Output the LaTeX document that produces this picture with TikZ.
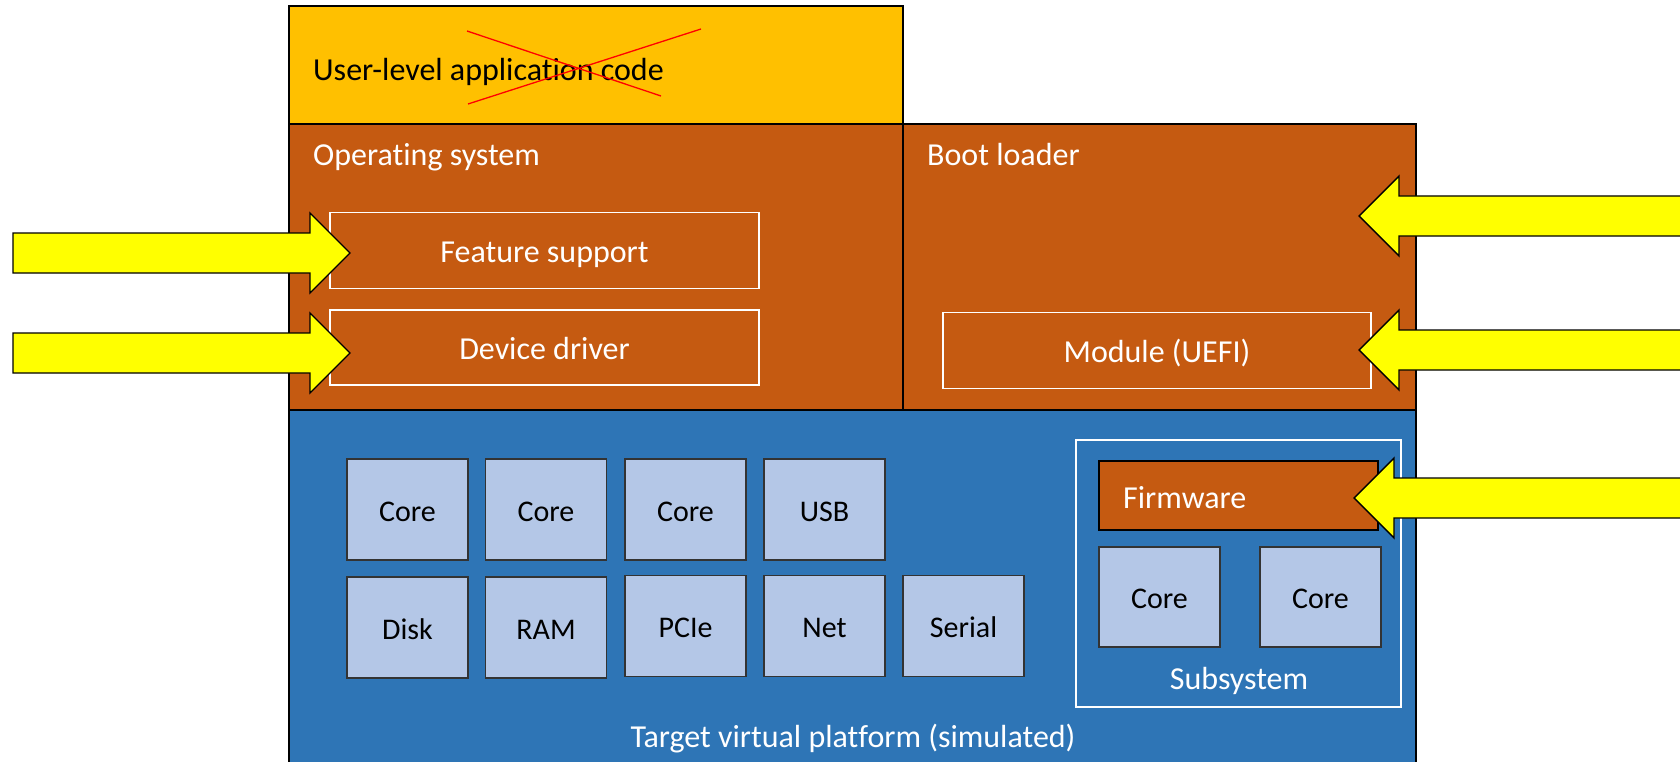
\documentclass[tikz,border=0pt]{standalone}
\usepackage{fontspec}
\setmainfont{Carlito}[Ligatures=NoCommon]
\definecolor{appY}{HTML}{FFC000}
\definecolor{osO}{HTML}{C55A11}
\definecolor{platB}{HTML}{2E75B6}
\definecolor{hwB}{HTML}{B4C7E7}
\definecolor{arrY}{HTML}{FFFF00}
\tikzset{
  base/.style={inner sep=0pt, outer sep=0pt, anchor=center},
  bigtxt/.style={font=\fontsize{32}{38}\selectfont, text height=30.6pt, text depth=6pt},
  smalltxt/.style={font=\fontsize{30}{36}\selectfont, text height=29.3pt, text depth=6pt},
  layer/.style={base, draw=black, line width=1.6pt},
  wbox/.style={base, draw=white, line width=1.6pt, text=white, bigtxt},
  hw/.style={base, draw=black!80, line width=1.6pt, fill=hwB, minimum width=121pt, minimum height=101pt, smalltxt},
  wlabel/.style={text=white, inner sep=0pt, bigtxt},
  barrow/.pic={\filldraw[fill=arrY, draw=black, line width=1.4pt, line join=miter]
     (0,0) -- (-40,-40) -- (-40,-20) -- (-#1,-20) -- (-#1,20) -- (-40,20) -- (-40,40) -- cycle;}
}
\begin{document}
\begin{tikzpicture}[x=1pt,y=-1pt]
\useasboundingbox (0,0) rectangle (1680,762);
% layers
\node[layer, fill=platB, minimum width=1127pt, minimum height=380pt] (plat) at (852.5,600) {};
\node[layer, fill=osO, minimum width=614pt, minimum height=286pt] (os) at (596,267) {};
\node[layer, fill=osO, minimum width=513pt, minimum height=286pt] (boot) at (1159.5,267) {};
\node[layer, fill=appY, minimum width=614pt, minimum height=118pt] (app) at (596,65) {};
% labels
\node[inner sep=0pt, anchor=west, bigtxt] (applbl) at (313,68) {User-level application code};
\node[wlabel, anchor=west] (oslbl) at (313,153) {Operating system};
\node[wlabel, anchor=west] (bootlbl) at (927,153) {Boot loader};
\draw[red, line width=1.3pt] (467,31) -- (661,96);
\draw[red, line width=1.3pt] (468,104) -- (701,29);
% OS / boot boxes
\node[wbox, minimum width=429pt, minimum height=76pt] (feat) at (544.5,250.5) {Feature support};
\node[wbox, minimum width=429pt, minimum height=75pt] (dev) at (544.5,347.5) {Device driver};
\node[wbox, minimum width=428pt, minimum height=76pt] (mod) at (1157,350.5) {Module (UEFI)};
% hardware
\node[hw] (c1) at (407.5,509.5) {Core};
\node[hw] (c2) at (546,509.5) {Core};
\node[hw] (c3) at (685.5,509.5) {Core};
\node[hw] (usb) at (824.5,509.5) {USB};
\node[hw] (disk) at (407.5,627.5) {Disk};
\node[hw] (ram) at (546,627.5) {RAM};
\node[hw] (pcie) at (685.5,626) {PCIe};
\node[hw] (net) at (824.5,626) {Net};
\node[hw] (serial) at (963.5,626) {Serial};
% subsystem
\node[base, draw=white, line width=1.6pt, minimum width=325pt, minimum height=267pt] (sub) at (1238.5,573.5) {};
\node[layer, fill=osO, minimum width=279pt, minimum height=69pt] (fw) at (1238.5,495.5) {};
\node[wlabel, anchor=west] (fwlbl) at (1123,496) {Firmware};
\node[hw, minimum height=100pt] (sc1) at (1159.5,597) {Core};
\node[hw, minimum height=100pt] (sc2) at (1320.5,597) {Core};
\node[wlabel] (sublbl) at (1239,677.5) {Subsystem};
\node[wlabel] (platlbl) at (853,735) {Target virtual platform (simulated)};
% arrows
\pic at (350,253) {barrow=337};
\pic at (350,353) {barrow=337};
\pic[xscale=-1] at (1359,216) {barrow=330};
\pic[xscale=-1] at (1359,350) {barrow=330};
\pic[xscale=-1] at (1354,498) {barrow=335};
\end{tikzpicture}
\end{document}
